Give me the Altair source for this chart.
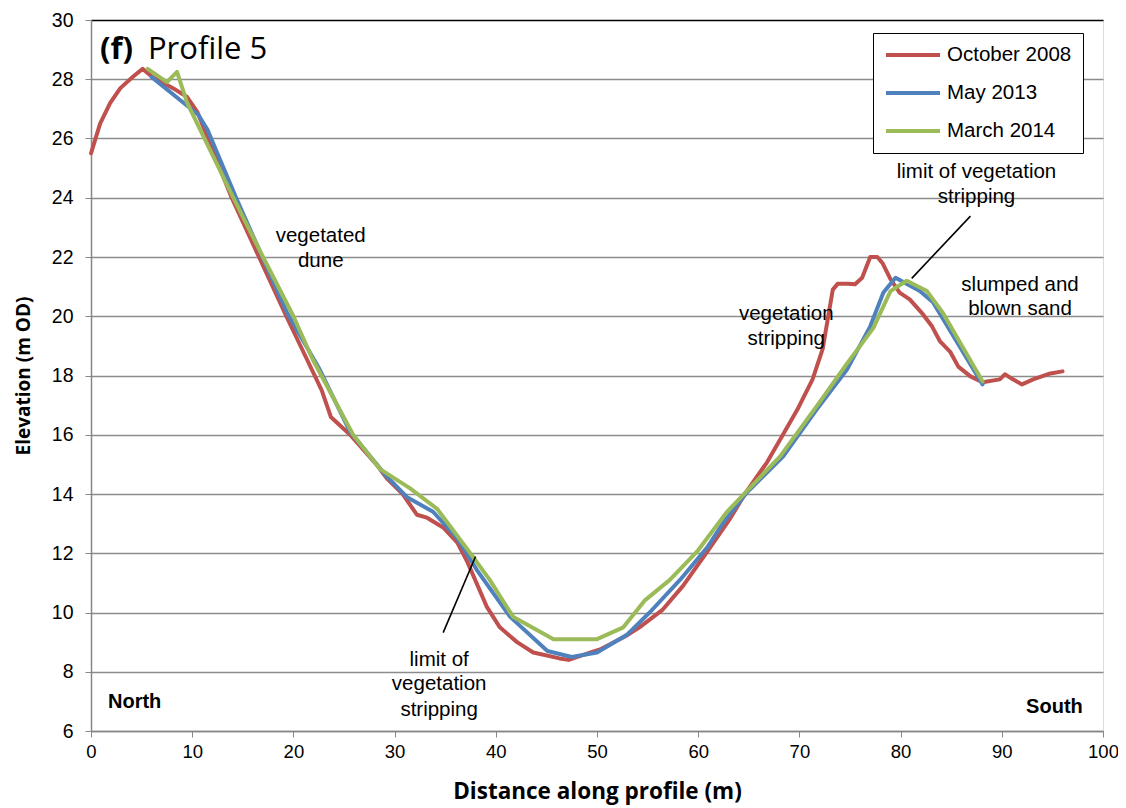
import altair as alt
import pandas as pd

# ---- data ----
oct08_x = [0, 0.9, 1.9, 2.9, 4.2, 5.1, 6.1, 8.1, 9.5, 10.5, 13.9, 16.6, 19.3, 22.1, 22.8, 23.7, 25.6, 28.2,
           29.3, 30.8, 32.2, 33.2, 34.8, 36.2, 37.2, 39.1, 40.4, 42.1, 43.7, 46.3, 47.2, 49.6, 50.3, 52.8,
           54.2, 56.5, 58.5, 60.9, 63.1, 64.8, 66.8, 68.1, 69.8, 71.3, 72.3, 72.8, 73.3, 73.8, 74.8, 75.5,
           76.2, 77.0, 77.7, 78.2, 79.0, 79.9, 80.9, 82.2, 83.1, 83.9, 84.9, 85.7, 86.9, 88.1, 89.8, 90.3,
           91.1, 92.0, 93.1, 94.8, 96.0]
oct08_y = [25.5, 26.5, 27.2, 27.7, 28.1, 28.35, 28.07, 27.7, 27.4, 26.9, 24.0, 22.0, 20.0, 18.0, 17.5, 16.6,
           16.0, 15.0, 14.5, 14.0, 13.3, 13.2, 12.87, 12.36, 11.7, 10.2, 9.5, 9.0, 8.65, 8.45, 8.4, 8.68,
           8.75, 9.2, 9.5, 10.1, 10.9, 12.06, 13.14, 14.1, 15.07, 15.84, 16.85, 17.87, 18.9, 19.9, 20.9,
           21.1, 21.1, 21.08, 21.3, 22.0, 22.0, 21.8, 21.25, 20.8, 20.57, 20.07, 19.66, 19.15, 18.8, 18.3,
           17.97, 17.77, 17.87, 18.04, 17.87, 17.7, 17.87, 18.07, 18.14]

may13_x = [6.0, 8.8, 10.6, 11.5, 14.4, 19.4, 22.6, 25.6, 29.2, 31.2, 33.8, 36.2, 38.1, 41.4, 45.1, 47.5,
           50.0, 53.0, 55.2, 58.2, 60.9, 62.5, 64.8, 68.4, 71.7, 74.7, 77.0, 78.3, 79.5, 81.9, 83.2, 88.1]
may13_y = [28.07, 27.3, 26.8, 26.3, 23.95, 20.1, 18.2, 16.1, 14.6, 13.9, 13.4, 12.5, 11.45, 9.86, 8.7, 8.5,
           8.65, 9.26, 10.0, 11.1, 12.2, 13.04, 14.05, 15.27, 16.85, 18.2, 19.66, 20.8, 21.3, 20.85, 20.47, 17.7]

mar14_x = [5.6, 7.5, 8.5, 9.5, 14.0, 17.0, 20.0, 21.9, 25.9, 28.6, 31.5, 34.2, 37.7, 39.4, 41.7, 45.7,
           50.0, 52.6, 54.7, 57.2, 59.9, 62.8, 64.8, 68.1, 72.0, 74.7, 77.3, 79.0, 80.6, 82.6, 84.2, 88.1]
mar14_y = [28.35, 27.9, 28.25, 27.2, 24.05, 22.0, 20.0, 18.55, 16.0, 14.83, 14.2, 13.5, 11.9, 11.1, 9.86, 9.1,
           9.1, 9.5, 10.4, 11.1, 12.06, 13.38, 14.1, 15.27, 17.1, 18.4, 19.6, 20.85, 21.2, 20.85, 20.1, 17.8]

series_names = ["October 2008", "May 2013", "March 2014"]
series_colors = ["#C0504D", "#4F81BD", "#9BBB59"]

y_ticks = [6, 8, 10, 12, 14, 16, 18, 20, 22, 24, 26, 28, 30]
x_ticks = [0, 10, 20, 30, 40, 50, 60, 70, 80, 90, 100]

# annotations (data units)
note_text = ["vegetated", "dune", "vegetation", "stripping", "limit of vegetation", "stripping",
             "slumped and", "blown sand", "limit of", "vegetation", "stripping"]
note_x = [22.7, 22.7, 68.7, 68.7, 87.5, 87.5, 91.8, 91.8, 34.4, 34.4, 34.4]
note_y = [22.70, 21.86, 20.07, 19.22, 24.86, 24.02, 21.05, 20.24, 8.41, 7.57, 6.72]

side_text = ["North", "South"]
side_x = [1.68, 98.0]
side_y = [6.99, 6.82]

leader_x = [86.9, 34.8]
leader_y = [23.38, 9.32]
leader_x2 = [81.1, 38.0]
leader_y2 = [21.28, 11.89]

title_text = ["(f)", "Profile 5"]
title_x = [0.89, 5.63]
title_y = [29.0, 29.0]

# ---- tables ----
rows = []
for name, xs_, ys_ in zip(series_names, [oct08_x, may13_x, mar14_x], [oct08_y, may13_y, mar14_y]):
    for i, (a, b) in enumerate(zip(xs_, ys_)):
        rows.append({"series": name, "x": a, "y": b, "i": i})
df = pd.DataFrame(rows)

notes = pd.DataFrame({"t": note_text, "x": note_x, "y": note_y})
sides = pd.DataFrame({"t": side_text, "x": side_x, "y": side_y})
leaders = pd.DataFrame({"x": leader_x, "y": leader_y, "x2": leader_x2, "y2": leader_y2})
title_df = pd.DataFrame({"t": title_text, "x": title_x, "y": title_y})

xs = alt.Scale(domain=[0, 100], nice=False)
ys = alt.Scale(domain=[6, 30], nice=False)

lines = alt.Chart(df).mark_line(strokeWidth=4, strokeJoin="round", strokeCap="round").encode(
    x=alt.X("x:Q", scale=xs, axis=alt.Axis(
        values=x_ticks, title="Distance along profile (m)", grid=False, labelFlush=False,
        domainColor="#868686", domainWidth=1.5, tickColor="#868686", tickSize=6,
        labelFont="Liberation Sans", labelFontSize=18.5, labelColor="black", labelPadding=5,
        titleFont="Open Sans", titleFontSize=22.5, titleFontWeight="bold", titleColor="black", titlePadding=20)),
    y=alt.Y("y:Q", scale=ys, axis=alt.Axis(
        values=y_ticks, title="Elevation (m OD)", grid=True,
        gridColor={"condition": {"test": "datum.value === 30", "value": "black"}, "value": "#8c8c8c"},
        gridWidth=1.6,
        domainColor="#868686", domainWidth=1.5, tickColor="#868686", tickSize=6,
        labelFont="Liberation Sans", labelFontSize=19.5, labelColor="black", labelPadding=12,
        titleFont="Open Sans", titleFontSize=19, titleFontWeight="bold", titleColor="black", titlePadding=18)),
    color=alt.Color("series:N", scale=alt.Scale(domain=series_names, range=series_colors),
                    legend=alt.Legend(title=None, orient="none", legendX=782, legendY=13,
                                      strokeColor="black", fillColor="white", padding=11,
                                      symbolType="M-1,0L5,0", symbolStrokeWidth=4, symbolSize=324,
                                      labelFont="Liberation Sans", labelFontSize=20.5, labelColor="black",
                                      labelOffset=41, rowPadding=16)),
    order="i:Q",
)

note_layer = alt.Chart(notes).mark_text(font="Liberation Sans", fontSize=20.5, color="black",
                                        align="center", baseline="middle").encode(
    x=alt.X("x:Q", scale=xs), y=alt.Y("y:Q", scale=ys), text="t:N")

side_layer_l = alt.Chart(sides.iloc[[0]]).mark_text(font="Liberation Sans", fontSize=20, fontWeight="bold",
                                                    color="black", align="left", baseline="middle").encode(
    x=alt.X("x:Q", scale=xs), y=alt.Y("y:Q", scale=ys), text="t:N")
side_layer_r = alt.Chart(sides.iloc[[1]]).mark_text(font="Liberation Sans", fontSize=20, fontWeight="bold",
                                                    color="black", align="right", baseline="middle").encode(
    x=alt.X("x:Q", scale=xs), y=alt.Y("y:Q", scale=ys), text="t:N")

leader_layer = alt.Chart(leaders).mark_rule(color="black", strokeWidth=1.6).encode(
    x=alt.X("x:Q", scale=xs), y=alt.Y("y:Q", scale=ys), x2="x2:Q", y2="y2:Q")

title_b = alt.Chart(title_df.iloc[[0]]).mark_text(font="Open Sans", fontSize=31, fontWeight="bold", color="black",
                                                  align="left", baseline="middle").encode(
    x=alt.X("x:Q", scale=xs), y=alt.Y("y:Q", scale=ys), text="t:N")
title_n = alt.Chart(title_df.iloc[[1]]).mark_text(font="Open Sans", fontSize=31, color="black",
                                                  align="left", baseline="middle").encode(
    x=alt.X("x:Q", scale=xs), y=alt.Y("y:Q", scale=ys), text="t:N")

chart = alt.layer(lines, leader_layer, note_layer, side_layer_l, side_layer_r, title_b, title_n).properties(
    width=1012, height=711,
    autosize=alt.AutoSizeParams(type="none"),
    padding={"left": 83, "top": 12, "right": 15, "bottom": 76},
).configure_view(stroke="black", strokeWidth=1.5).configure(background="white")

chart.save("out.html", embed_options={"renderer": "svg", "actions": False})
